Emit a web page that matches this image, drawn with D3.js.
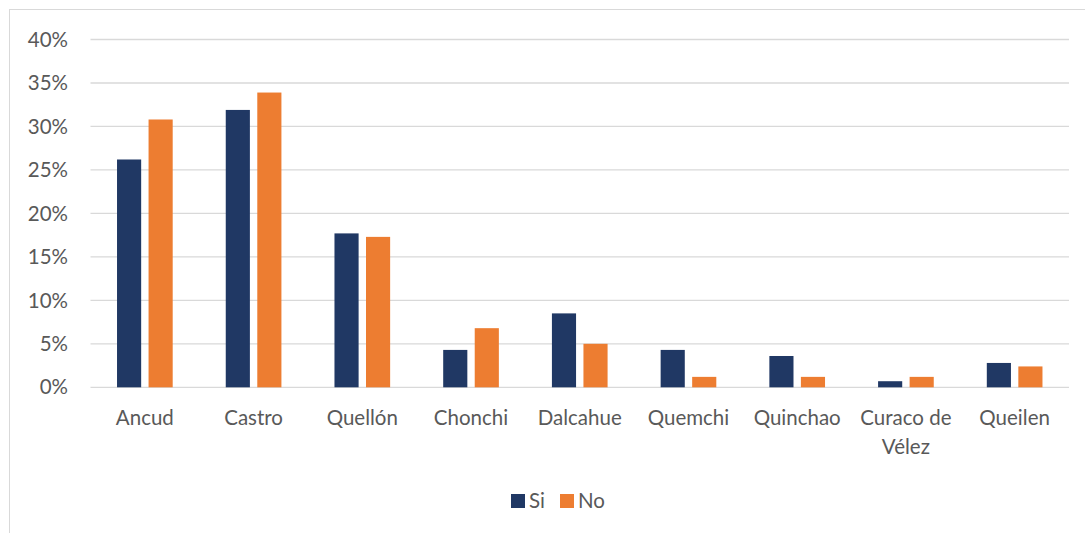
<!DOCTYPE html>
<html>
<head>
<meta charset="utf-8">
<script src="https://cdn.jsdelivr.net/npm/d3@7"></script>
<style>
  body { margin: 0; background: #fff; }
  text { font-family: Lato, "Open Sans", sans-serif; fill: #595959; }
</style>
</head>
<body>
<svg width="1085" height="533"></svg>
<script>
// data
const comunas = ["Ancud", "Castro", "Quellón", "Chonchi", "Dalcahue", "Quemchi", "Quinchao", "Curaco de Vélez", "Queilen"];
const si = [26.2, 31.9, 17.7, 4.3, 8.5, 4.3, 3.6, 0.7, 2.8];
const no = [30.8, 33.9, 17.3, 6.8, 5.0, 1.2, 1.2, 1.2, 2.4];
const yTicks = [0, 5, 10, 15, 20, 25, 30, 35, 40];
const series = [{name: "Si", values: si, color: "#203864"}, {name: "No", values: no, color: "#ED7D31"}];

(function () {
  'use strict';
  const svg = d3.select("svg");

  // outer frame
  svg.append("rect")
    .attr("x", 9.5).attr("y", 9.5).attr("width", 1085).attr("height", 540)
    .attr("fill", "none").attr("stroke", "#d9d9d9");

  const left = 90.5, right = 1069, top = 39.5, bottom = 387.3;

  const x = d3.scaleBand().domain(comunas).range([left, right]);
  const y = d3.scaleLinear().domain([0, 40]).range([bottom, top]);

  const g = svg.append("g");

  g.selectAll("line.grid").data(yTicks).enter().append("line")
    .attr("x1", left).attr("x2", right)
    .attr("y1", d => y(d)).attr("y2", d => y(d))
    .attr("stroke", "#d9d9d9").attr("stroke-width", 1.3);

  g.selectAll("text.ytick").data(yTicks).enter().append("text")
    .attr("x", 68).attr("y", d => y(d)).attr("dy", "0.35em")
    .attr("text-anchor", "end").style("font-size", "20.5px")
    .text(d => d + "%");

  const bw = x.bandwidth() * 0.222, gap = x.bandwidth() * 0.068;
  series.forEach((s, i) => {
    g.selectAll("rect.s" + i).data(s.values).enter().append("rect")
      .attr("x", (d, j) => x(comunas[j]) + x.bandwidth() / 2 + (i === 0 ? -gap / 2 - bw : gap / 2))
      .attr("y", d => y(d))
      .attr("width", bw)
      .attr("height", d => bottom - y(d))
      .attr("fill", s.color);
  });

  // category labels (wrap long one)
  comunas.forEach(c => {
    const lines = c === "Curaco de Vélez" ? ["Curaco de", "Vélez"] : [c];
    const t = g.append("text")
      .attr("text-anchor", "middle").style("font-size", "20.5px");
    lines.forEach((l, k) => {
      t.append("tspan").attr("x", x(c) + x.bandwidth() / 2).attr("y", 425 + k * 29).text(l);
    });
  });

  // legend
  const leg = svg.append("g");
  const lx = [511, 560];
  series.forEach((s, i) => {
    leg.append("rect").attr("x", lx[i]).attr("y", 494).attr("width", 14).attr("height", 14).attr("fill", s.color);
    leg.append("text").attr("x", lx[i] + 18).attr("y", 501).attr("dy", "0.35em")
      .style("font-size", "20.5px").text(s.name);
  });
}());
</script>
</body>
</html>
